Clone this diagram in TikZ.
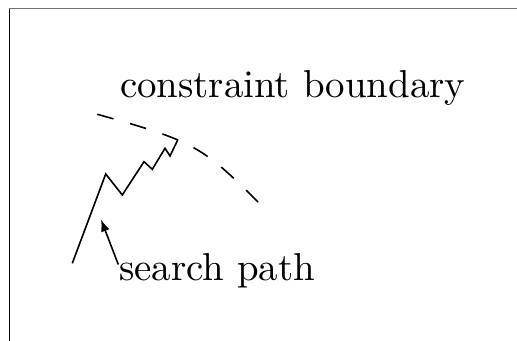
\documentclass[tikz,border=0pt]{standalone}
\usetikzlibrary{arrows.meta}
\begin{document}
\begin{tikzpicture}[x=0.5pt,y=-0.5pt, line width=0.8pt,
  lbl/.style={anchor=base west, inner sep=0pt, scale=1.945, font=\fontsize{10}{12}\selectfont},
  bound/.style={dash pattern=on 8.4pt off 8.6pt},
  walk/.style={line join=miter},
  ptr/.style={-{Latex[length=6pt,width=4.5pt]}},
  frameleft/.style={black, line width=0.6pt},
  frametop/.style={black!55, line width=0.5pt}]
\useasboundingbox (0,0) rectangle (517,341);
% frame
\draw[frameleft] (9.3,341) -- (9.3,8.6);
\draw[frametop] (9,8.6) -- (517,8.6);
% labels
\node[lbl] (cb) at (118.5,97.5) {constraint boundary};
\node[lbl] (sp) at (117.5,280) {search path};
% constraint boundary
\draw[bound] (97.3,114.3) .. controls (193.6,141.2) and (201.7,145.7) .. (258.3,202.3);
% search path
\draw[walk] (72.3,263.3) -- (105.7,174) -- (122.3,195) -- (144,161.7) -- (152.3,169.3)
  -- (165,148.3) -- (170,156) -- (177.7,140);
% pointer
\coordinate (tail) at (118.3,264.5);
\coordinate (tip) at (101,219.5);
\draw[ptr] (tail) -- (tip);
\end{tikzpicture}
\end{document}
